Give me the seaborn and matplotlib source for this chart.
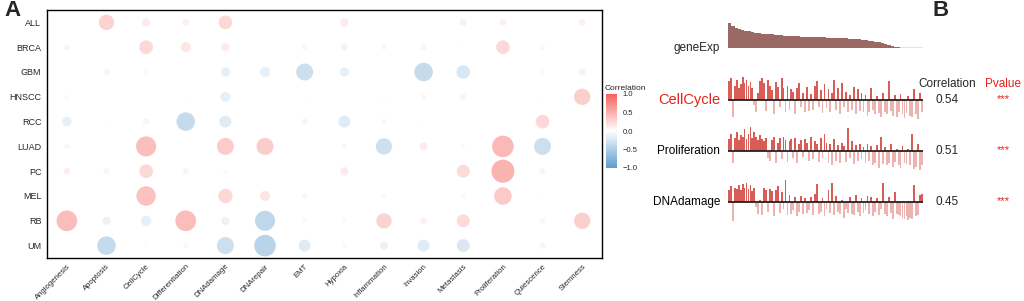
import numpy as np
import pandas as pd
import matplotlib
matplotlib.use("Agg")
import matplotlib.pyplot as plt
import matplotlib.transforms as mtransforms
import seaborn as sns
from matplotlib.colors import LinearSegmentedColormap, Normalize

# ---- panel A data: correlation of gene with cancer states ----
states = ["Angiogenesis", "Apoptosis", "CellCycle", "Differentiation", "DNAdamage",
          "DNArepair", "EMT", "Hypoxia", "Inflammation", "Invasion", "Metastasis",
          "Proliferation", "Quiescence", "Stemness"]
cancers = ["ALL", "BRCA", "GBM", "HNSCC", "RCC", "LUAD", "PC", "MEL", "RB", "UM"]

corr_ALL = [0.02, 0.35, 0.15, 0.12, 0.30, 0.02, 0.00, 0.15, 0.00, 0.00, 0.12, 0.12, 0.00, 0.12]
corr_BRCA = [0.10, 0.02, 0.30, 0.20, 0.15, 0.00, 0.08, 0.12, 0.08, 0.10, 0.04, 0.30, 0.08, 0.00]
corr_GBM = [0.00, -0.10, -0.06, 0.00, -0.18, -0.20, -0.40, -0.18, 0.00, -0.45, -0.30, 0.00, -0.06, -0.12]
corr_HNSCC = [-0.06, 0.00, 0.00, -0.03, -0.20, 0.00, -0.03, -0.03, -0.05, -0.08, -0.10, -0.02, -0.04, 0.38]
corr_RCC = [-0.18, -0.02, 0.10, -0.45, -0.25, 0.00, -0.10, -0.25, -0.08, -0.03, 0.00, 0.00, 0.30, 0.00]
corr_LUAD = [-0.08, 0.00, 0.50, -0.02, 0.40, 0.40, 0.00, -0.08, -0.38, 0.15, -0.06, 0.55, -0.40, -0.02]
corr_PC = [0.12, 0.10, 0.30, -0.10, 0.06, 0.00, 0.00, 0.15, 0.00, 0.00, 0.28, 0.60, 0.10, 0.00]
corr_MEL = [0.00, 0.00, 0.48, 0.00, 0.32, 0.20, 0.08, 0.00, -0.06, 0.00, 0.06, 0.42, 0.03, 0.00]
corr_RB = [0.52, -0.15, -0.20, 0.52, -0.15, -0.50, -0.06, -0.06, 0.35, 0.12, 0.28, 0.00, 0.08, 0.38]
corr_UM = [0.02, -0.45, 0.04, -0.08, -0.40, -0.55, -0.25, -0.06, -0.15, -0.25, -0.28, 0.00, -0.10, 0.02]

# ---- panel B data ----
gene_exp = [1.0, 0.85, 0.8, 0.75, 0.71, 0.68, 0.65, 0.62, 0.6, 0.58, 0.56, 0.55, 0.54, 0.53, 0.52,
            0.51, 0.5, 0.49, 0.48, 0.47, 0.46, 0.46, 0.45, 0.45, 0.44, 0.44, 0.43, 0.43, 0.42, 0.42,
            0.41, 0.41, 0.4, 0.4, 0.39, 0.39, 0.38, 0.37, 0.36, 0.35, 0.34, 0.33, 0.31, 0.29, 0.27,
            0.25, 0.23, 0.2, 0.17, 0.13, 0.09, 0.05, 0.02, 0, 0, 0, 0, 0, 0, 0]

score_cellcycle = [0.8, 0.9, -0.7, 0.6, 0.85, 0.5, 0.65, 0.95, 0.7, 0.85, 0.6, 0.75, 0.5, -0.2, -0.5,
                   0.3, 0.8, 0.9, 0.7, -0.45, 0.85, 0.6, 0.4, -0.6, 0.75, 0.55, -0.3, 0.9, 0.5, -0.5,
                   0.6, -0.4, 0.45, 0.35, -0.6, 0.5, 0.7, -0.3, 0.3, -0.5, 0.55, -0.45, 0.25, -0.4, 0.6,
                   0.8, -0.3, 0.4, -0.55, 0.65, -0.35, 0.45, -0.5, 0.3, 0.85, -0.4, 0.5, -0.6, 0.7, -0.3,
                   0.35, -0.5, 0.2, -0.4, 0.55, -0.6, 0.45, -0.45, 0.3, -0.5, 0.2, -0.65, -0.5, 0.5, -0.4,
                   -0.6, 0.15, -0.55, -0.7, 0.3, -0.5, -0.6, 0.8, -0.45, -0.65, 0.2, -0.7, -0.5, 0.25, -0.6,
                   -0.75, -0.55, 0.15, -0.65, -0.7, 0.45, -0.6, -0.8, 0.3, -0.5]
score_proliferation = [0.5, 0.7, -0.5, 0.55, 0.8, 0.45, 0.65, 0.6, 0.9, 0.5, 0.7, 1.0, 0.55, 0.8, 0.6,
                       0.45, 0.65, 0.5, 0.4, 0.55, -0.3, -0.4, 0.45, 0.6, -0.5, 0.35, 0.55, -0.35, 0.6, 0.45,
                       -0.45, 0.4, 0.5, -0.3, 0.55, -0.5, 0.3, 0.45, -0.25, 0.5, 0.35, -0.4, 0.6, -0.35, 0.4,
                       0.3, -0.45, 0.55, -0.3, 0.7, 0.35, -0.5, 0.3, -0.6, 0.5, -0.4, 0.25, -0.5, 0.35, 0.2,
                       -0.45, 0.95, -0.3, 0.4, -0.55, 0.25, -0.4, 0.3, -0.35, 0.15, -0.5, 0.3, -0.4, 0.2, -0.6,
                       -0.5, 0.25, -0.7, 0.6, -0.55, 0.15, -0.6, -0.5, 0.3, -0.65, -0.45, 0.1, -0.6, -0.7, 0.2,
                       -0.5, -0.55, 0.1, -0.6, 0.7, -0.75, -0.65, 0.3, -0.8, -0.6]
score_dnadamage = [0.5, 0.65, -0.8, 0.6, 0.55, 0.7, 0.5, 0.75, 0.6, 0.8, 0.55, 0.7, 0.45, 0.6, -0.2,
                   -0.5, 0.1, -0.55, 0.6, 0.5, -0.4, 0.55, 0.45, -0.6, 0.5, 0.65, -0.45, 0.4, -0.3, 0.9,
                   -0.55, 0.3, -0.5, -0.35, 0.2, -0.6, -0.4, 0.25, -0.5, 0.15, -0.45, -0.35, 0.2, -0.55, 0.35,
                   0.75, -0.5, -0.4, 0.15, -0.6, -0.3, 0.5, -0.45, 0.8, -0.55, 0.25, -0.4, -0.5, 0.1, -0.65,
                   -0.3, -0.45, 0.2, -0.5, -0.55, 0.3, -0.4, -0.6, 0.15, -0.45, -0.35, 0.25, -0.5, 0.2, -0.6,
                   -0.4, 0.15, -0.55, -0.3, 0.8, -0.5, -0.6, 0.2, -0.45, -0.7, 0.4, -0.5, -0.55, -0.6, -0.65,
                   -0.7, -0.6, -0.75, -0.65, -0.7, 0.7, -0.6, -0.55, 0.3, 0.35]

track_names = ["CellCycle", "Proliferation", "DNAdamage"]
track_corr = ["0.54", "0.51", "0.45"]
track_pval = ["***", "***", "***"]

# ---- figure ----
sns.set_style("white")
plt.rcParams["font.family"] = ["Liberation Sans", "DejaVu Sans"]

W, H = 1024, 301
fig = plt.figure(figsize=(W / 100, H / 100), dpi=100)


def px_box(x0, y0, x1, y1):
    return [x0 / W, 1 - y1 / H, (x1 - x0) / W, (y1 - y0) / H]


cmap = LinearSegmentedColormap.from_list("corr", ["#5E9CD0", "#FFFFFF", "#F4625A"])
norm = Normalize(-1, 1)

rows = [corr_ALL, corr_BRCA, corr_GBM, corr_HNSCC, corr_RCC,
        corr_LUAD, corr_PC, corr_MEL, corr_RB, corr_UM]
df = pd.DataFrame(rows, index=cancers, columns=states)
long = df.reset_index().melt(id_vars="index", var_name="state", value_name="corr")
long = long.rename(columns={"index": "cancer"})
long["xi"] = long["state"].map({s: i for i, s in enumerate(states)})
long["yi"] = long["cancer"].map({c: i for i, c in enumerate(cancers)})
long["area"] = long["corr"].abs() ** 1.5

axA = fig.add_axes(px_box(47, 10, 602, 258))
sns.scatterplot(data=long, x="xi", y="yi", hue="corr", size="area",
                palette=cmap, hue_norm=norm, sizes=(0, 590), size_norm=(0, 1),
                edgecolor="none", alpha=0.8, legend=False, ax=axA)
axA.set_xlim(-0.5, len(states) - 0.5)
axA.set_ylim(len(cancers) - 0.5, -0.5)
axA.set_xticks(range(len(states)))
axA.set_xticklabels(states, rotation=45, ha="right", va="top",
                    rotation_mode="anchor", fontsize=5.6)
shift = mtransforms.ScaledTranslation(4 / 72, 0, fig.dpi_scale_trans)
for lab in axA.get_xticklabels():
    lab.set_transform(lab.get_transform() + shift)
axA.set_yticks(range(len(cancers)))
axA.set_yticklabels(cancers, fontsize=6.5)
axA.set_xlabel("")
axA.set_ylabel("")
axA.tick_params(length=2, width=0.6, color="#333333", pad=2)
axA.tick_params(axis="x", pad=1.5)
for sp in axA.spines.values():
    sp.set_color("black")
    sp.set_linewidth(1.0)

# colorbar
cax = fig.add_axes(px_box(606, 94, 617, 168))
cb = fig.colorbar(plt.cm.ScalarMappable(norm=norm, cmap=cmap), cax=cax)
cb.outline.set_visible(False)
cb.set_ticks([-1, -0.5, 0, 0.5, 1])
cb.set_ticklabels(["\u22121.0", "\u22120.5", "0.0", "0.5", "1.0"])
cb.ax.tick_params(labelsize=5.5, length=2, width=0.5, color="white", pad=2)
fig.text(605 / W, 1 - 88 / H, "Correlation", fontsize=6, va="center", ha="left")

fig.text(4 / W, 1 - 10 / H, "A", fontsize=16, fontweight="bold", va="center", ha="left")
fig.text(932 / W, 1 - 10 / H, "B", fontsize=16, fontweight="bold", va="center", ha="left")

# ---- panel B ----
x0, x1 = 728, 923
axG = fig.add_axes(px_box(x0, 22, x1, 48))
sns.barplot(x=list(range(len(gene_exp))), y=gene_exp, color="#A4625B",
            width=1.0, linewidth=0, errorbar=None, ax=axG)
axG.set_ylim(0, 1.02)
axG.set_xlim(-0.5, len(gene_exp) - 0.5)
axG.axhline(0, color="#777777", lw=1.0)
axG.axis("off")
fig.text(720 / W, 1 - 48 / H, "geneExp", fontsize=8.5, ha="right", va="center")

tracks = [score_cellcycle, score_proliferation, score_dnadamage]
centers = [100, 151, 202]
half = 24
for name, vals, cy, rv, pv in zip(track_names, tracks, centers, track_corr, track_pval):
    ax = fig.add_axes(px_box(x0, cy - half, x1, cy + half))
    bar_colors = ["#EE4A40" if v >= 0 else "#F5ABA6" for v in vals]
    sns.barplot(x=list(range(len(vals))), y=vals, hue=list(range(len(vals))),
                palette=bar_colors, width=0.9, linewidth=0, errorbar=None,
                legend=False, ax=ax)
    ax.set_ylim(-1, 1)
    ax.set_xlim(-0.5, len(vals) - 0.5)
    ax.axhline(0, color="#222222", lw=1.3)
    ax.axis("off")
    is_first = name == "CellCycle"
    fig.text(720 / W, 1 - cy / H, name, fontsize=10.5 if is_first else 8.5,
             color="#E8211B" if is_first else "black", ha="right", va="center")
    fig.text(947 / W, 1 - cy / H, rv, fontsize=8.5, ha="center", va="center")
    fig.text(1003 / W, 1 - (cy - 1) / H, pv, fontsize=8, color="#E8211B",
             ha="center", va="center")

fig.text(947 / W, 1 - 84 / H, "Correlation", fontsize=8.5, ha="center", va="center")
fig.text(1003 / W, 1 - 84 / H, "Pvalue", fontsize=8.5, color="#E8211B",
         ha="center", va="center")

fig.savefig("out.png", dpi=100)
